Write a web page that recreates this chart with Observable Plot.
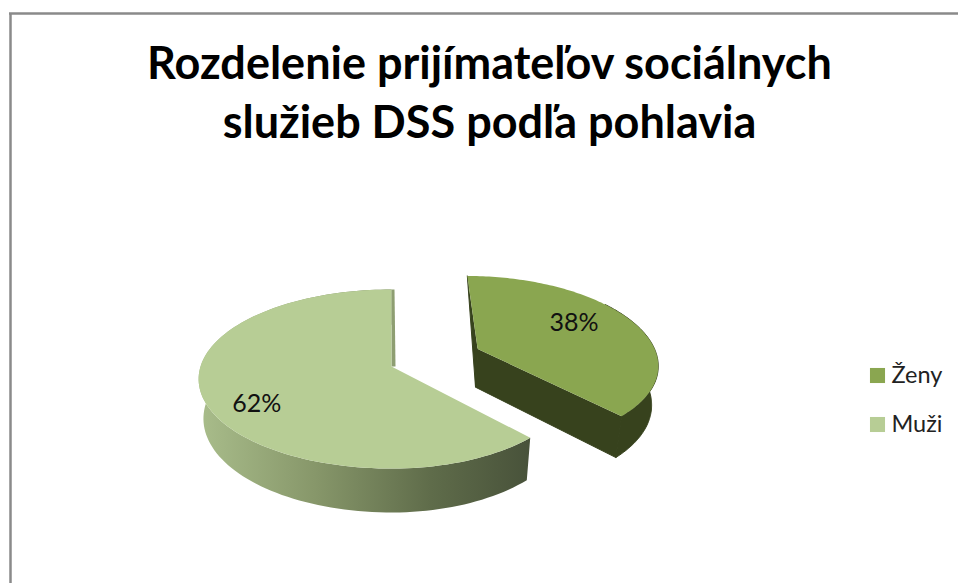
<!DOCTYPE html>
<html><head><meta charset="utf-8">
<style>html,body{margin:0;padding:0;background:#fff;overflow:hidden}svg{display:block}</style>
<script src="https://cdn.jsdelivr.net/npm/d3@7"></script>
<script src="https://cdn.jsdelivr.net/npm/@observablehq/plot@0.6"></script>
</head><body><script>
const categories = ["Ženy", "Muži"];
const shares = [38, 62];
const labels = ["38%", "62%"];
const titleLines = ["Rozdelenie prijímateľov sociálnych", "služieb DSS podľa pohlavia"];
const topColors = ["#8aa650", "#b7cd95"];
const sideColors = ["#37421d", "url(#muziSide)"];

// 3D view of the pie: a disc seen in perspective
const view = {cx: 391, p: 0.14, rRight: 182, rLeft: 191,
  top: {cy: 366, ry: 87.8, k: 1}, bottom: {cy: 405, ry: 92, k: 0.975},
  explode: [[0.487, 0.205], [0, 0]]};
function project(X, Y, level) {
  const s = 1 / (1 + view.p * Y), l = view[level];
  return {x: view.cx + (X < 0 ? view.rLeft : view.rRight) * l.k * X * s, y: l.cy - l.ry * Y * s};
}
function polar(i, a, r, level) {
  const [ex, ey] = view.explode[i];
  return project(ex + r * Math.sin(a), ey + r * Math.cos(a), level);
}
const total = d3.sum(shares);
const edges = [0, shares[0] / total * 2 * Math.PI, 2 * Math.PI];
const arc = (i, level, rev, from = 0) => {
  const n = 120, pts = d3.range(n + 1).map(k => polar(i, edges[i] + (edges[i + 1] - edges[i]) * (from + (1 - from) * k / n), 1, level));
  return rev ? pts.reverse() : pts;
};
const poly = (id, pts) => pts.map(p => ({...p, id}));

const zenySide = poly("zs", [...arc(0, "top", false, 0.4), ...arc(0, "bottom", true, 0.4)]);
const zenyFaces = poly("zf", [polar(0, edges[1], 1, "top"), polar(0, edges[1], 1, "bottom"), polar(0, 0, 0, "bottom"), polar(0, 0, 0, "top")]);
const zenyStart = poly("zb", [polar(0, 0, 1, "top"), polar(0, 0, 0, "bottom"), polar(0, 0, 0, "top")]);
const zenyTop = poly("zt", [polar(0, 0, 0, "top"), ...arc(0, "top")]);
const muziSide = poly("ms", [...arc(1, "top"), ...arc(1, "bottom", true)]);
const muziSliver = poly("mf", [polar(1, 0, 1, "top"), {x: polar(1, 0, 1, "top").x + 3, y: polar(1, 0, 1, "top").y}, {x: polar(1, 0, 0, "top").x + 4, y: polar(1, 0, 0, "top").y}, polar(1, 0, 0, "top")]);
const muziTop = poly("mt", [polar(1, 0, 0, "top"), ...arc(1, "top")]);

const fillPoly = (pts, fill, stroke = "none") => Plot.line(pts, {x: "x", y: "y", z: "id", fill, stroke, strokeWidth: 1});
const mid = i => (edges[i] + edges[i + 1]) / 2;
const labelPos = [polar(0, mid(0), 0.62, "top"), polar(1, mid(1), 0.73, "top")];
const labelNudge = [-8, 13];
const legendY = [375, 424];

const chart = Plot.plot({
  width: 958, height: 583, margin: 0,
  x: {domain: [0, 958], range: [0, 958], axis: null},
  y: {domain: [0, 583], range: [0, 583], axis: null},
  style: {background: "#fff"},
  marks: [
    () => {
      const defs = d3.create("svg:defs");
      const g = defs.append("linearGradient").attr("id", "muziSide");
      [[0, "#a9bd8b"], [0.35, "#87976a"], [0.7, "#5f6c4a"], [1, "#48523a"]].forEach(([o, c]) =>
        g.append("stop").attr("offset", o).attr("stop-color", c));
      return defs.node();
    },
    Plot.ruleX([10], {y1: 13, y2: 583, stroke: "#8a8a8a", strokeWidth: 2.5}),
    Plot.ruleY([13], {x1: 9, x2: 958, stroke: "#8a8a8a", strokeWidth: 2.5}),
    Plot.text(titleLines, {x: () => 489, y: (d, i) => [64.5, 123.5][i], text: d => d,
      fontFamily: "Lato", fontWeight: 700, fontSize: 45, fill: "#000"}),
    fillPoly(muziSide, sideColors[1]),
    fillPoly(muziSliver, "#8e9e72"),
    fillPoly(muziTop, topColors[1]),
    fillPoly(zenyStart, sideColors[0], sideColors[0]),
    fillPoly(zenySide, sideColors[0], sideColors[0]),
    fillPoly(zenyFaces, sideColors[0], sideColors[0]),
    fillPoly(zenyTop, topColors[0]),
    Plot.text(labels, {x: (d, i) => labelPos[i].x, y: (d, i) => labelPos[i].y + labelNudge[i], text: d => d,
      fontFamily: "Lato", fontSize: 25, fill: "#111"}),
    Plot.dot(categories, {x: () => 877, y: (d, i) => legendY[i], r: 8.5, symbol: "square",
      fill: (d, i) => topColors[i], stroke: "none"}),
    Plot.text(categories, {x: () => 891, y: (d, i) => legendY[i], text: d => d, textAnchor: "start",
      fontFamily: "Lato", fontSize: 23.5, fill: "#222"})
  ]
});
document.body.append(chart);
</script></body></html>
